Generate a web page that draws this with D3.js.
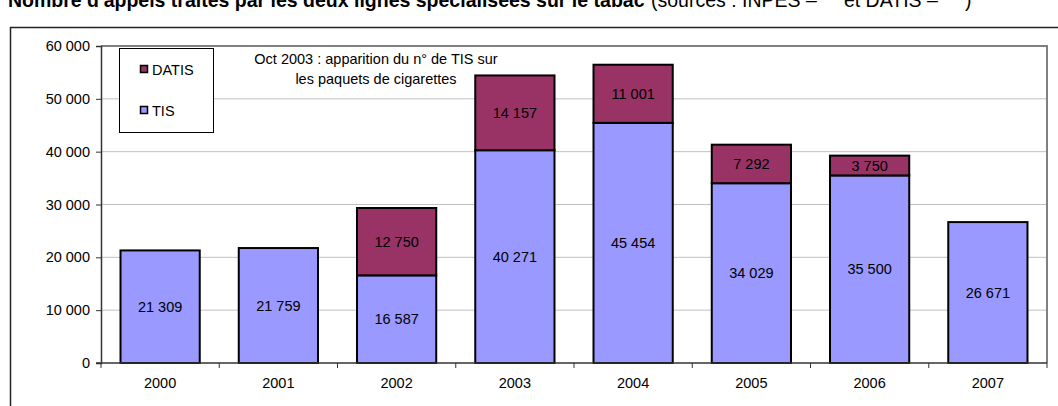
<!DOCTYPE html>
<html>
<head>
<meta charset="utf-8">
<script src="https://cdn.jsdelivr.net/npm/d3@7"></script>
<style>
  html, body { margin: 0; padding: 0; background: #fff; }
  svg { display: block; font-family: Arial, "Liberation Sans", sans-serif; }
</style>
</head>
<body>
<svg id="chart" width="1058" height="406"></svg>
<script>
const years = ["2000", "2001", "2002", "2003", "2004", "2005", "2006", "2007"];
const tisValues = [21309, 21759, 16587, 40271, 45454, 34029, 35500, 26671];
const datisValues = [0, 0, 12750, 14157, 11001, 7292, 3750, 0];
const yTicks = [0, 10000, 20000, 30000, 40000, 50000, 60000];
const seriesNames = ["DATIS", "TIS"];
const seriesColors = { TIS: "#9999ff", DATIS: "#993366" };
const titleBold = "Nombre d'appels traités par les deux lignes spécialisées sur le tabac";
const titleNormal = "(sources : INPES \u2013\u00a0\u00a0\u00a0\u00a0 et DATIS \u2013\u00a0\u00a0\u00a0\u00a0\u00a0)";
const noteLines = ["Oct 2003 : apparition du n° de TIS sur", "les paquets de cigarettes"];

const FS = 14.5;
const svg = d3.select("#chart");
const margin = { left: 101, right: 1047, top: 46, bottom: 363 };

const fmt = v => d3.format(",")(v).replace(/,/g, " ");

// outer frame
svg.append("rect").attr("x", 10.5).attr("y", 27.5).attr("width", 1060).attr("height", 400)
  .attr("fill", "none").attr("stroke", "#222").attr("stroke-width", 1.5);

// title (clipped at top as in reference)
svg.append("text").attr("x", 8).attr("y", 7).attr("font-size", 19.5).attr("font-weight", "bold")
  .attr("fill", "#000").text(titleBold);
svg.append("text").attr("x", 651).attr("y", 7).attr("font-size", 19.5)
  .attr("fill", "#000").text(titleNormal);

const x = d3.scaleBand().domain(years).range([margin.left, margin.right]).paddingInner(0.33).paddingOuter(0.165);
const y = d3.scaleLinear().domain([0, 60000]).range([margin.bottom, margin.top]);

// gridlines
svg.append("g").selectAll("line").data(yTicks.filter(d => d > 0)).join("line")
  .attr("x1", margin.left).attr("x2", margin.right)
  .attr("y1", d => y(d)).attr("y2", d => y(d))
  .attr("stroke", "#c0c0c0").attr("stroke-width", 1);

// plot border (top / right)
svg.append("path")
  .attr("d", `M${margin.left},${margin.top}H${margin.right}V${margin.bottom}`)
  .attr("fill", "none").attr("stroke", "#808080").attr("stroke-width", 2);

// stacked bars
const data = years.map((yr, i) => ({ year: yr, TIS: tisValues[i], DATIS: datisValues[i] }));
const stack = d3.stack().keys(["TIS", "DATIS"])(data);
const gBars = svg.append("g");
stack.forEach(layer => {
  const key = layer.key;
  gBars.selectAll("rect." + key).data(layer.filter(d => d[1] - d[0] > 0)).join("rect")
    .attr("class", key)
    .attr("x", d => x(d.data.year))
    .attr("width", x.bandwidth())
    .attr("y", d => y(d[1]))
    .attr("height", d => y(d[0]) - y(d[1]))
    .attr("fill", seriesColors[key])
    .attr("stroke", "#000").attr("stroke-width", 2);
  gBars.selectAll("text." + key).data(layer.filter(d => d[1] - d[0] > 0)).join("text")
    .attr("class", key)
    .attr("x", d => x(d.data.year) + x.bandwidth() / 2)
    .attr("y", d => (y(d[0]) + y(d[1])) / 2)
    .attr("dy", "0.35em")
    .attr("text-anchor", "middle")
    .attr("font-size", FS)
    .attr("fill", "#000")
    .text(d => fmt(d[1] - d[0]));
});

// y axis
const yAxis = d3.axisLeft(y).tickValues(yTicks).tickSize(5).tickPadding(6).tickFormat(fmt);
const gy = svg.append("g").attr("transform", `translate(${margin.left},0)`).call(yAxis);
gy.select(".domain").attr("stroke", "#333").attr("stroke-width", 1.5);
gy.selectAll(".tick line").attr("stroke", "#333");
gy.selectAll(".tick text").attr("font-size", FS).attr("fill", "#000").attr("font-family", "Arial, 'Liberation Sans', sans-serif");

// x axis
const gx = svg.append("g").attr("transform", `translate(0,${margin.bottom})`);
gx.append("line").attr("x1", margin.left - 5).attr("x2", margin.right).attr("stroke", "#333").attr("stroke-width", 1.5);
const step = x.step();
const bounds = d3.range(years.length + 1).map(i => margin.left + i * step);
gx.selectAll("line.tk").data(bounds).join("line").attr("class", "tk")
  .attr("x1", d => d).attr("x2", d => d).attr("y1", 0).attr("y2", 5).attr("stroke", "#333");
gx.selectAll("text").data(years).join("text")
  .attr("x", d => x(d) + x.bandwidth() / 2).attr("y", 25)
  .attr("text-anchor", "middle").attr("font-size", FS).attr("fill", "#000").text(d => d);

// legend
const lg = svg.append("g");
lg.append("rect").attr("x", 119.5).attr("y", 48.5).attr("width", 94).attr("height", 84)
  .attr("fill", "#fff").attr("stroke", "#000").attr("stroke-width", 1);
seriesNames.forEach((name, i) => {
  const yy = 65 + i * 41;
  lg.append("rect").attr("x", 140.5).attr("y", yy + 0.5).attr("width", 7).attr("height", 7)
    .attr("fill", seriesColors[name]).attr("stroke", "#000").attr("stroke-width", 1.5);
  lg.append("text").attr("x", 152).attr("y", yy + 9.5).attr("font-size", FS).attr("fill", "#000").text(name);
});

// annotation
svg.append("g").selectAll("text").data(noteLines).join("text")
  .attr("x", 376).attr("y", (d, i) => 64 + i * 20)
  .attr("text-anchor", "middle").attr("font-size", FS).attr("fill", "#000").text(d => d);
</script>
</body>
</html>
